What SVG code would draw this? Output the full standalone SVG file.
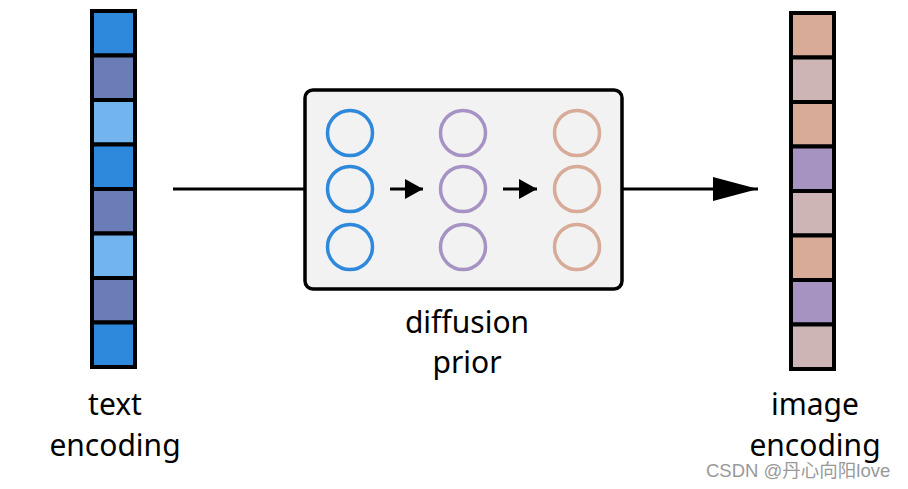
<svg xmlns="http://www.w3.org/2000/svg" width="908" height="489" viewBox="0 0 908 489">
<style>
.cell{stroke:#000;stroke-width:4}
.b1{fill:#2e88dc}.b2{fill:#6a7db6}.b3{fill:#72b4ee}
.r1{fill:#d8aa98}.r2{fill:#cdb5b5}.r3{fill:#a693c2}
.c{fill:none;stroke-width:3.5}
.cb{stroke:#2e88dc}.cp{stroke:#a693c4}.cs{stroke:#d8aa98}
.ln{stroke:#000;stroke-width:3;fill:none}
.t{font-family:"Noto Sans","Open Sans",sans-serif;font-size:30px;fill:#000;text-anchor:middle}
</style>
<defs>
<marker id="big" markerUnits="userSpaceOnUse" markerWidth="46" markerHeight="26" refX="45" refY="13" orient="auto"><path d="M0,1 L45,13 L0,25 Z" fill="#000"/></marker>
<marker id="sm" markerUnits="userSpaceOnUse" markerWidth="19" markerHeight="22" refX="18" refY="11" orient="auto"><path d="M0,1 L18,11 L0,21 Z" fill="#000"/></marker>
</defs>
<g id="text-encoding">
<rect class="cell b1" x="92" y="11" width="43" height="44.5"/>
<rect class="cell b2" x="92" y="55.5" width="43" height="44.5"/>
<rect class="cell b3" x="92" y="100" width="43" height="44.5"/>
<rect class="cell b1" x="92" y="144.5" width="43" height="44.5"/>
<rect class="cell b2" x="92" y="189" width="43" height="44.5"/>
<rect class="cell b3" x="92" y="233.5" width="43" height="44.5"/>
<rect class="cell b2" x="92" y="278" width="43" height="44.5"/>
<rect class="cell b1" x="92" y="322.5" width="43" height="44.5"/>
<text class="t" x="115" y="415">text</text>
<text class="t" x="115" y="456">encoding</text>
</g>
<g id="diffusion-prior">
<rect x="305" y="90" width="317" height="199" rx="8" fill="#f2f2f2" stroke="#000" stroke-width="3.5"/>
<circle class="c cb" cx="350" cy="133" r="22.5"/>
<circle class="c cb" cx="350" cy="189" r="22.5"/>
<circle class="c cb" cx="350" cy="247" r="22.5"/>
<circle class="c cp" cx="463" cy="133" r="22.5"/>
<circle class="c cp" cx="463" cy="189" r="22.5"/>
<circle class="c cp" cx="463" cy="247" r="22.5"/>
<circle class="c cs" cx="577" cy="133" r="22.5"/>
<circle class="c cs" cx="577" cy="189" r="22.5"/>
<circle class="c cs" cx="577" cy="247" r="22.5"/>
<line class="ln" x1="390" y1="189" x2="423" y2="189" marker-end="url(#sm)"/>
<line class="ln" x1="503" y1="189" x2="537" y2="189" marker-end="url(#sm)"/>
<text class="t" x="467" y="333">diffusion</text>
<text class="t" x="467" y="373">prior</text>
</g>
<g id="image-encoding">
<rect class="cell r1" x="791" y="13" width="43" height="44.5"/>
<rect class="cell r2" x="791" y="57.5" width="43" height="44.5"/>
<rect class="cell r1" x="791" y="102" width="43" height="44.5"/>
<rect class="cell r3" x="791" y="146.5" width="43" height="44.5"/>
<rect class="cell r2" x="791" y="191" width="43" height="44.5"/>
<rect class="cell r1" x="791" y="235.5" width="43" height="44.5"/>
<rect class="cell r3" x="791" y="280" width="43" height="44.5"/>
<rect class="cell r2" x="791" y="324.5" width="43" height="44.5"/>
<text class="t" x="815" y="415">image</text>
<text class="t" x="815" y="456">encoding</text>
</g>
<g id="connectors">
<line class="ln" x1="173" y1="189" x2="305" y2="189"/>
<line class="ln" x1="622" y1="189" x2="758" y2="189" marker-end="url(#big)"/>
</g>
<text x="706" y="477" font-family="'Liberation Sans','Noto Sans CJK SC',sans-serif" font-size="18.5" fill="#999">CSDN @丹心向阳love</text>
</svg>
